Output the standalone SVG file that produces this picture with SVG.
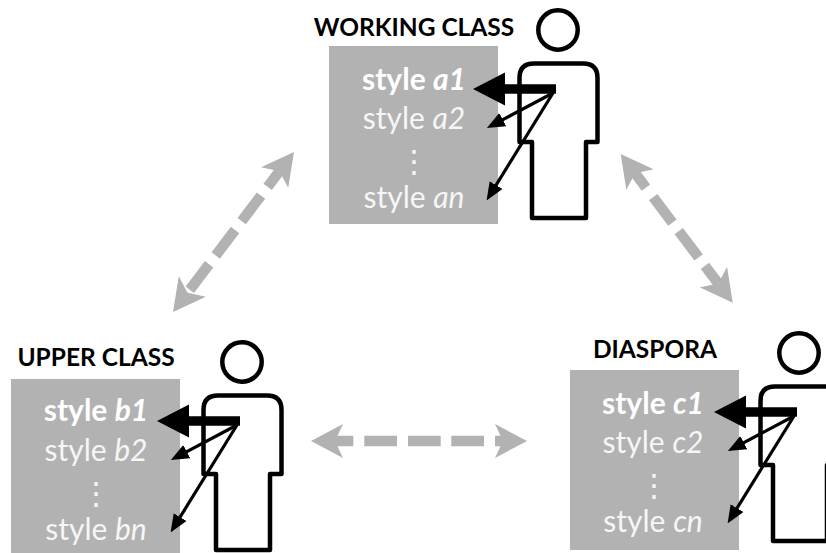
<svg xmlns="http://www.w3.org/2000/svg" width="826" height="553" viewBox="0 0 826 553">
<style>
.box{fill:#b2b2b2}
.ttl{font:700 24.5px Lato,"Liberation Sans",sans-serif;fill:#000;text-anchor:middle}
.st{font:400 30px Lato,"Liberation Sans",sans-serif;fill:#f6f6f6;text-anchor:middle}
.b{font-weight:700;fill:#fff}
.dots{font:400 31px "DejaVu Sans",sans-serif;fill:#f6f6f6;text-anchor:middle}
.it{font-style:italic}
.p{fill:none;stroke:#000;stroke-width:4.5;stroke-linejoin:round}
.dash{stroke:#b2b2b2;stroke-width:10.5;fill:none}
.thick{stroke:#000;stroke-width:9.5;fill:none}
.thin{stroke:#000;stroke-width:3.2;fill:none}
</style>
<defs>
<marker id="g" markerUnits="userSpaceOnUse" viewBox="0 -17 32 34" refX="8" refY="0" markerWidth="32" markerHeight="34" orient="auto-start-reverse"><path d="M0,-17 L8,0 L0,17 L32,0Z" fill="#b2b2b2"/></marker>
<marker id="k" markerUnits="userSpaceOnUse" viewBox="0 -17 32 34" refX="1" refY="0" markerWidth="32" markerHeight="34" orient="auto"><path d="M0,-16.5 V16.5 L32,0Z" fill="#000"/></marker>
<marker id="s" markerUnits="userSpaceOnUse" viewBox="0 -8 18 16" refX="2" refY="0" markerWidth="18" markerHeight="16" orient="auto"><path d="M0,-7.5 V7.5 L18,0Z" fill="#000"/></marker>
<g id="person"><circle cx="0" cy="0" r="19.7" class="p"/><path class="p" d="M-38.5,112V48Q-38.5,33.5 -24,33.5H25Q39.5,33.5 39.5,48V112H28V188H-26V112Z"/></g>
<g id="fan"><path class="thick" d="M-2,59H-54" marker-end="url(#k)"/><path class="thin" d="M-5,63L-57,90.6" marker-end="url(#s)"/><path class="thin" d="M-5,63L-63,156.8" marker-end="url(#s)"/></g>
</defs>
<g id="node-working-class">
<rect class="box" x="329" y="46" width="169" height="178"/>
<use href="#person" x="558" y="30"/>
<text class="ttl" x="414" y="36">WORKING CLASS</text>
<text class="st b" x="414" y="90">style <tspan class="it">a1</tspan></text>
<text class="st" x="414" y="129">style <tspan class="it">a2</tspan></text>
<text class="dots" x="414" y="172">⋮</text>
<text class="st" x="414" y="208">style <tspan class="it">an</tspan></text>
</g>
<g id="node-upper-class">
<rect class="box" x="11" y="379" width="169" height="174"/>
<use href="#person" x="242" y="362"/>
<text class="ttl" x="96" y="366">UPPER CLASS</text>
<text class="st b" x="96" y="421">style <tspan class="it">b1</tspan></text>
<text class="st" x="96" y="461">style <tspan class="it">b2</tspan></text>
<text class="dots" x="96" y="504">⋮</text>
<text class="st" x="96" y="540">style <tspan class="it">bn</tspan></text>
</g>
<g id="node-diaspora">
<rect class="box" x="570" y="370" width="169" height="180"/>
<use href="#person" x="799" y="353"/>
<text class="ttl" x="655" y="358">DIASPORA</text>
<text class="st b" x="653" y="414">style <tspan class="it">c1</tspan></text>
<text class="st" x="653" y="453">style <tspan class="it">c2</tspan></text>
<text class="dots" x="654" y="496">⋮</text>
<text class="st" x="653" y="532">style <tspan class="it">cn</tspan></text>
</g>
<g id="connectors">
<use href="#fan" x="558" y="30"/>
<use href="#fan" x="242" y="362"/>
<use href="#fan" x="799" y="353"/>
<path class="dash" d="M187.5,292.8L279.5,171.2" stroke-dasharray="0 3.8 32 11 32 11 32 11 20 300" marker-start="url(#g)" marker-end="url(#g)"/>
<path class="dash" d="M635.1,173.2L718.3,283.5" stroke-dasharray="18 12 32 10.5 33 10.5 22 300" marker-start="url(#g)" marker-end="url(#g)"/>
<path class="dash" d="M335,441H503" stroke-dasharray="18.3 11 32.7 11 32.7 10.6 32.7 11 8 300" marker-start="url(#g)" marker-end="url(#g)"/>
</g>
</svg>
